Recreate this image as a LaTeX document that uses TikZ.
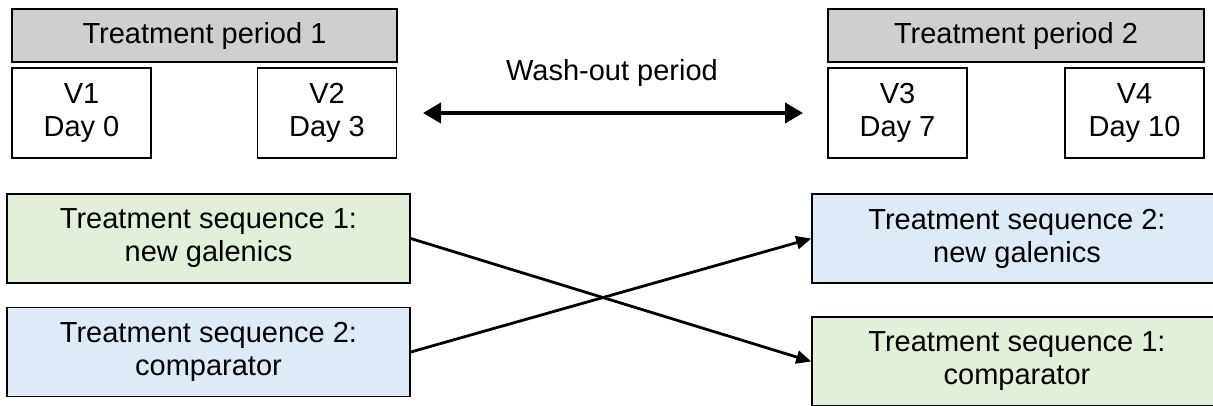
\documentclass[tikz,border=0pt]{standalone}
\usepackage{fontspec}
\setmainfont{Liberation Sans}
\usetikzlibrary{arrows.meta}
\definecolor{periodgray}{HTML}{D0CECE}
\definecolor{seqgreen}{HTML}{E2EFDA}
\definecolor{seqblue}{HTML}{DEEBF7}
\tikzset{
  box/.style={draw=black, line width=1.5pt, rectangle, inner sep=0pt, align=center,
    font=\fontsize{29}{33}\selectfont},
  periodbox/.style={box, fill=periodgray, minimum width=385pt, minimum height=53pt},
  visitbox/.style={box, fill=white, minimum width=139pt, minimum height=90pt},
  seqbox/.style={box, minimum height=89pt},
  crossarrow/.style={line width=2.8pt, -{Triangle[length=15pt,width=13pt]}},
  washarrow/.style={line width=4pt, {Triangle[length=18pt,width=20pt]}-{Triangle[length=18pt,width=20pt]}},
}
\begin{document}
\begin{tikzpicture}[x=1pt,y=-1pt]
\useasboundingbox (0,0) rectangle (1213,405);
\clip (0,0) rectangle (1213,405);
% periods
\node[periodbox] (p1) at (204.5,35.5) {Treatment period 1};
\node[periodbox, minimum width=376pt] (p2) at (1016,35.5) {Treatment period 2};
% visits
\node[visitbox] (v1) at (81.5,113) {V1\\Day 0};
\node[visitbox] (v2) at (327,113) {V2\\Day 3};
\node[visitbox] (v3) at (897.5,113) {V3\\Day 7};
\node[visitbox] (v4) at (1134.5,113) {V4\\Day 10};
% wash-out
\node[font=\fontsize{29}{33}\selectfont] (wtext) at (612,73) {Wash-out period};
\coordinate (wl) at (423,113);
\coordinate (wr) at (803,113);
\draw[washarrow] (wl) -- (wr);
% sequences
\node[seqbox, fill=seqgreen, minimum width=403pt] (l1) at (208.5,238.5) {Treatment sequence 1:\\new galenics};
\node[seqbox, fill=seqblue, minimum width=403pt] (l2) at (208.5,352) {Treatment sequence 2:\\comparator};
\node[seqbox, fill=seqblue, minimum width=410pt] (r1) at (1017,238.5) {Treatment sequence 2:\\new galenics};
\node[seqbox, fill=seqgreen, minimum width=410pt] (r2) at (1017,361.5) {Treatment sequence 1:\\comparator};
% crossing arrows
\draw[crossarrow] (l1.east) -- (r2.west);
\draw[crossarrow] (l2.east) -- (r1.west);
\end{tikzpicture}
\end{document}
